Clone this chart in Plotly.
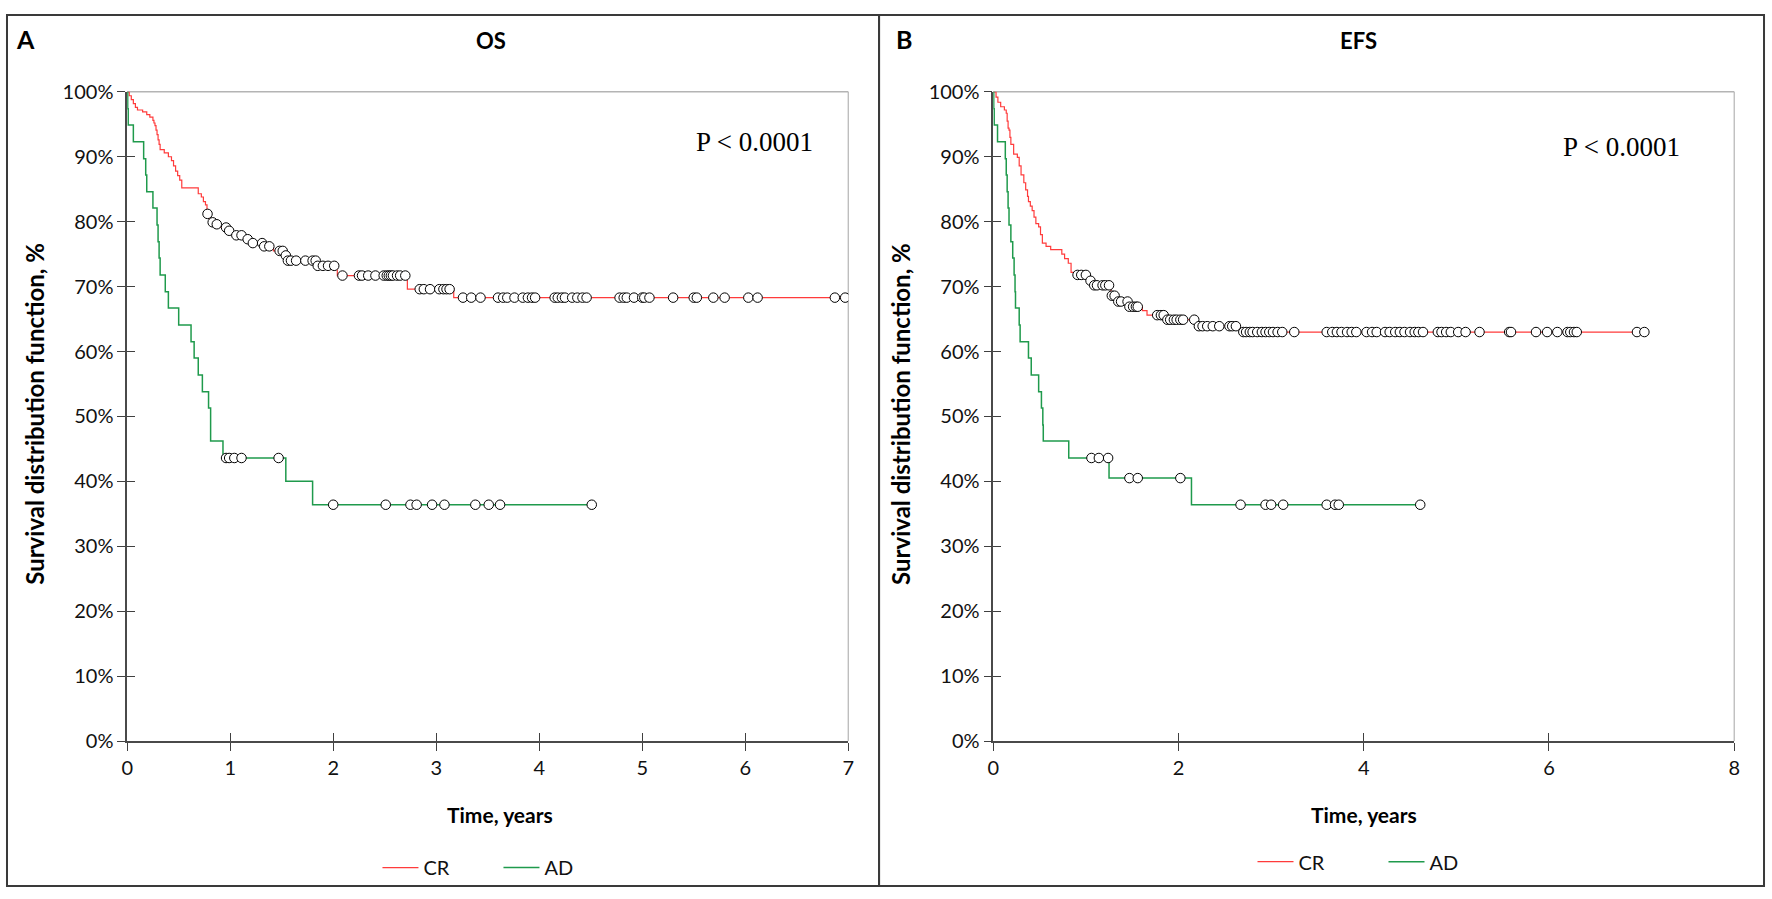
import numpy as np
import plotly.graph_objects as go

W, H = 1772, 899

# ---- values ----
# step times (years) and survival (%) after each step; last point closes the line
os_cr_t = [0, 0.02, 0.04, 0.06, 0.08, 0.10, 0.15, 0.19, 0.22, 0.25, 0.26, 0.27, 0.28, 0.29, 0.30, 0.31,
           0.32, 0.36, 0.40, 0.43, 0.45, 0.47, 0.49, 0.51, 0.53, 0.69, 0.72, 0.74, 0.76, 0.775, 0.80,
           0.85, 0.90, 0.98, 1.02, 1.14, 1.19, 1.32, 1.42, 1.52, 1.55, 1.84, 2.04, 2.72, 3.17, 7.0]
os_cr_s = [100, 99.4, 98.8, 98.2, 97.6, 97.2, 96.9, 96.5, 96.1, 95.6, 95.2, 94.8, 94.1, 93.4, 92.6, 91.9,
           91.1, 90.6, 90.0, 89.4, 88.6, 87.8, 87.1, 86.4, 85.2, 84.3, 83.8, 83.1, 82.6, 81.2, 79.9,
           79.6, 79.1, 78.6, 77.9, 77.3, 76.7, 76.2, 75.5, 74.8, 74.0, 73.2, 71.7, 69.6, 68.3, 68.3]
os_cr_cens = [0.78, 0.83, 0.87, 0.96, 0.99, 1.06, 1.11, 1.17, 1.22, 1.31, 1.33, 1.38, 1.48, 1.51, 1.54,
              1.56, 1.59, 1.64, 1.73, 1.80, 1.83, 1.85, 1.90, 1.95, 2.01, 2.09, 2.25, 2.28, 2.34, 2.41,
              2.49, 2.52, 2.54, 2.56, 2.58, 2.62, 2.65, 2.70, 2.84, 2.88, 2.94, 3.03, 3.07, 3.10, 3.13,
              3.26, 3.34, 3.43, 3.60, 3.65, 3.69, 3.76, 3.84, 3.89, 3.93, 3.96, 4.15, 4.18, 4.22, 4.25,
              4.32, 4.37, 4.42, 4.46, 4.78, 4.82, 4.85, 4.92, 5.00, 5.02, 5.07, 5.30, 5.50, 5.53, 5.69,
              5.80, 6.03, 6.12, 6.87, 6.97]

os_ad_t = [0, 0.005, 0.01, 0.06, 0.16, 0.18, 0.19, 0.25, 0.29, 0.30, 0.31, 0.32, 0.37, 0.40, 0.50,
           0.62, 0.65, 0.69, 0.73, 0.79, 0.81, 0.93, 1.54, 1.80, 4.51]
os_ad_s = [100, 97.4, 94.9, 92.3, 89.7, 87.2, 84.6, 82.1, 79.5, 76.9, 74.4, 71.8, 69.2, 66.7, 64.1,
           61.5, 59.0, 56.4, 53.8, 51.3, 46.2, 43.6, 40.0, 36.4, 36.4]
os_ad_cens = [0.96, 0.99, 1.04, 1.11, 1.47, 2.00, 2.51, 2.75, 2.81, 2.96, 3.08, 3.38, 3.51, 3.62, 4.51]

efs_cr_t = [0, 0.03, 0.05, 0.08, 0.12, 0.14, 0.15, 0.16, 0.17, 0.18, 0.19, 0.22, 0.26, 0.28, 0.30,
            0.33, 0.35, 0.37, 0.38, 0.40, 0.42, 0.44, 0.46, 0.49, 0.51, 0.53, 0.57, 0.62, 0.74, 0.77,
            0.81, 0.84, 0.88, 1.03, 1.07, 1.27, 1.33, 1.46, 1.61, 1.66, 1.86, 2.20, 2.66, 7.04]
efs_cr_s = [100, 99.2, 98.4, 97.7, 97.2, 96.7, 95.5, 94.4, 94.1, 93.0, 91.9, 90.4, 89.9, 88.6, 87.2,
            86.0, 84.9, 83.9, 83.1, 82.4, 81.7, 80.7, 79.7, 79.2, 78.0, 76.7, 76.2, 75.7, 75.0, 74.3,
            73.6, 72.2, 71.8, 70.9, 70.2, 68.6, 67.7, 66.9, 66.3, 65.6, 64.9, 63.9, 63.0, 63.0]
efs_cr_cens = [0.91, 0.95, 1.00, 1.05, 1.09, 1.12, 1.18, 1.21, 1.25, 1.28, 1.31, 1.35, 1.38, 1.45, 1.47,
               1.51, 1.54, 1.56, 1.77, 1.81, 1.84, 1.88, 1.91, 1.95, 1.98, 2.02, 2.05, 2.17, 2.22, 2.26,
               2.31, 2.37, 2.44, 2.55, 2.58, 2.62, 2.70, 2.73, 2.77, 2.80, 2.85, 2.90, 2.94, 2.98, 3.02,
               3.07, 3.12, 3.25, 3.60, 3.66, 3.71, 3.76, 3.82, 3.87, 3.92, 4.03, 4.09, 4.14, 4.23, 4.28,
               4.34, 4.39, 4.44, 4.50, 4.55, 4.59, 4.64, 4.80, 4.84, 4.89, 4.94, 5.02, 5.10, 5.25, 5.57,
               5.59, 5.86, 5.98, 6.09, 6.20, 6.23, 6.27, 6.30, 6.95, 7.03]

efs_ad_t = [0, 0.005, 0.01, 0.046, 0.13, 0.14, 0.15, 0.16, 0.17, 0.19, 0.21, 0.225, 0.235, 0.24, 0.28,
            0.29, 0.38, 0.41, 0.49, 0.52, 0.535, 0.54, 0.815, 1.25, 2.14, 4.63]
efs_ad_s = [100, 97.4, 94.9, 92.3, 89.7, 87.2, 84.6, 82.1, 79.5, 76.9, 74.4, 71.8, 69.2, 66.7, 64.1,
            61.5, 59.0, 56.4, 53.8, 51.3, 48.7, 46.2, 43.6, 40.5, 36.4, 36.4]
efs_ad_cens = [1.06, 1.14, 1.24, 1.47, 1.56, 2.02, 2.67, 2.94, 3.00, 3.13, 3.60, 3.69, 3.73, 4.61]

group_names = ["CR", "AD"]
panel_letters = ["A", "B"]
panel_titles = ["OS", "EFS"]
p_text = "P < 0.0001"
x_title = "Time, years"
y_title = "Survival distribution function, %"

RED = "#ff3b3b"
GREEN = "#1f9a4c"
FONT = "Lato"
INK = "#111111"


def px(x):
    return x / W


def py(y):
    return 1 - y / H


def level_at(t_steps, s_steps, t_cens):
    idx = np.searchsorted(np.array(t_steps), np.array(t_cens), side="right") - 1
    return np.array(s_steps)[idx]


def km_traces(t, s, cens, color, width, name, xa, ya, legend):
    line = go.Scatter(x=t, y=s, mode="lines", line=dict(color=color, width=width, shape="hv"),
                      name=name, xaxis=xa, yaxis=ya, legend=legend, hoverinfo="skip")
    marks = go.Scatter(x=cens, y=level_at(t, s, cens), mode="markers",
                       marker=dict(symbol="circle", size=9.5, color="white",
                                   line=dict(color="black", width=1)),
                       showlegend=False, xaxis=xa, yaxis=ya, hoverinfo="skip")
    return [line, marks]


def axis(rng, dtick, domain, anchor, suffix=""):
    return dict(range=rng, dtick=dtick, domain=domain, anchor=anchor, ticks="outside", ticklen=8,
                tickwidth=1, tickcolor="#404040", showline=True, linecolor="#4a4a4a", linewidth=1.5,
                showgrid=False, zeroline=False, ticksuffix=suffix, fixedrange=True,
                tickfont=dict(family=FONT, size=20, color=INK))


def inner_ticks(rng, dtick, overlay, anchor):
    return dict(range=rng, dtick=dtick, overlaying=overlay, anchor=anchor, ticks="inside", ticklen=8,
                tickwidth=1, tickcolor="#404040", showline=False, showgrid=False, zeroline=False,
                showticklabels=False, fixedrange=True)


def main():
    fig = go.Figure()

    panels = [
        dict(x="x", y="y", xi="x3", yi="y3", legend="legend", xmax=7, dtick=1,
             dom=[px(122), px(848)],
             curves=[(os_cr_t, os_cr_s, os_cr_cens, RED, 1.2), (os_ad_t, os_ad_s, os_ad_cens, GREEN, 1.5)]),
        dict(x="x2", y="y2", xi="x4", yi="y4", legend="legend2", xmax=8, dtick=2,
             dom=[px(994), px(1740)],
             curves=[(efs_cr_t, efs_cr_s, efs_cr_cens, RED, 1.2),
                     (efs_ad_t, efs_ad_s, efs_ad_cens, GREEN, 1.5)]),
    ]
    ydom = [py(748), py(81)]

    for p in panels:
        for name, (t, s, c, col, w) in zip(group_names, p["curves"]):
            for tr in km_traces(t, s, c, col, w, name, p["x"], p["y"], p["legend"]):
                fig.add_trace(tr)
        # carrier for the inward half of the crossing tick marks
        fig.add_trace(go.Scatter(x=[None], y=[None], xaxis=p["xi"], yaxis=p["yi"],
                                 showlegend=False, hoverinfo="skip"))

    fig.update_layout(
        xaxis=axis([0, 7], 1, panels[0]["dom"], "y"),
        yaxis=axis([0, 100], 10, ydom, "x", "%"),
        xaxis2=axis([0, 8], 2, panels[1]["dom"], "y2"),
        yaxis2=axis([0, 100], 10, ydom, "x2", "%"),
        xaxis3=inner_ticks([0, 7], 1, "x", "y3"),
        yaxis3=inner_ticks([0, 100], 10, "y", "x3"),
        xaxis4=inner_ticks([0, 8], 2, "x2", "y4"),
        yaxis4=inner_ticks([0, 100], 10, "y2", "x4"),
    )

    shapes = []
    # outer frames of the two panels
    for x0, x1 in [(1, 879), (879, 1770)]:
        shapes.append(dict(type="rect", xref="paper", yref="paper", x0=px(x0), x1=px(x1),
                           y0=py(897), y1=py(2), line=dict(color="#3a3a3a", width=2), layer="below"))
    # light top / right border of each plot area
    for xr, yr in [("x", "y"), ("x2", "y2")]:
        shapes.append(dict(type="line", xref=f"{xr} domain", yref=f"{yr} domain", x0=0, x1=1, y0=1, y1=1,
                           line=dict(color="#b4b4b4", width=1.5), layer="below"))
        shapes.append(dict(type="line", xref=f"{xr} domain", yref=f"{yr} domain", x0=1, x1=1, y0=0, y1=1,
                           line=dict(color="#b4b4b4", width=1.2), layer="below"))

    ann = []
    for i, (lx, tx, ptx, pty, ytx, xtx) in enumerate([(20, 488, 754, 133, 28, 497),
                                                      (904, 1362, 1627, 138, 900, 1367)]):
        ann.append(dict(text=f"<b>{panel_letters[i]}</b>", x=px(lx), y=py(27), xref="paper", yref="paper",
                        xanchor="center", yanchor="middle", showarrow=False,
                        font=dict(family=FONT, size=25, color="black")))
        ann.append(dict(text=f"<b>{panel_titles[i]}</b>", x=px(tx), y=py(28), xref="paper", yref="paper",
                        xanchor="center", yanchor="middle", showarrow=False,
                        font=dict(family=FONT, size=22, color="black")))
        ann.append(dict(text=p_text, x=px(ptx), y=py(pty), xref="paper", yref="paper",
                        xanchor="center", yanchor="middle", showarrow=False,
                        font=dict(family="Liberation Serif", size=27, color="black")))
        ann.append(dict(text=f"<b>{y_title}</b>", x=px(ytx), y=py(412), xref="paper", yref="paper",
                        xanchor="center", yanchor="middle", textangle=-90, showarrow=False,
                        font=dict(family=FONT, size=24, color="black")))
        ann.append(dict(text=f"<b>{x_title}</b>", x=px(xtx), y=py(823), xref="paper", yref="paper",
                        xanchor="center", yanchor="middle", showarrow=False,
                        font=dict(family=FONT, size=21, color="black")))

    legend_style = dict(orientation="h", xanchor="left", yanchor="middle", bgcolor="rgba(0,0,0,0)",
                        borderwidth=0, font=dict(family=FONT, size=20, color=INK), itemwidth=36,
                        entrywidthmode="pixels", itemclick=False, itemdoubleclick=False)

    fig.update_layout(
        width=W, height=H,
        margin=dict(l=0, r=0, t=0, b=0),
        paper_bgcolor="white", plot_bgcolor="white",
        shapes=shapes, annotations=ann,
        legend=dict(x=px(374), y=py(878), entrywidth=70, **legend_style),
        legend2=dict(x=px(1255), y=py(872), entrywidth=80, **legend_style),
        hovermode=False,
    )
    # the page body has a default 8px margin; drop it so the figure fills the window exactly
    fig.write_html("out.html", config={"displayModeBar": False},
                   post_script="document.body.style.margin='0';document.body.style.overflow='hidden';")


if __name__ == "__main__":
    main()
